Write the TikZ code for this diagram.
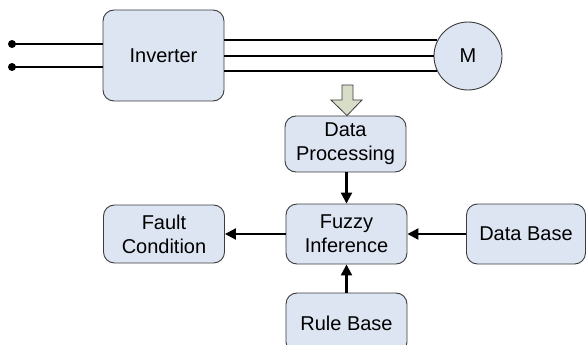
\documentclass[tikz,border=0pt]{standalone}
\usepackage{fontspec}
\setmainfont{Liberation Sans}
\usetikzlibrary{arrows.meta,calc}
\definecolor{boxfill}{RGB}{221,229,242}
\definecolor{boxline}{RGB}{60,60,60}
\definecolor{arrowfill}{RGB}{216,221,200}
\tikzset{
  block/.style={draw=boxline, line width=0.9pt, fill=boxfill, rounded corners=11pt,
    align=center, font=\fontsize{20}{24}\selectfont, inner sep=0pt},
  motor/.style={draw=boxline, line width=0.9pt, fill=boxfill, circle,
    minimum size=68pt, inner sep=0pt, font=\fontsize{20}{24}\selectfont},
  wire/.style={line width=2.1pt, black},
  flow/.style={wire, -{Triangle[length=11pt,width=11pt]}},
  terminal/.style={fill=black}
}
\begin{document}
\begin{tikzpicture}[x=1pt,y=-1pt]
\useasboundingbox (0,0) rectangle (587,345);

% power stage
\node[block, minimum width=121pt, minimum height=91pt] (inv) at (163.5,55.5) {Inverter};
\node[motor] (mot) at (468,56) {M};

% supply terminals
\coordinate (t1) at (12,44);
\coordinate (t2) at (12,67);
\draw[wire] (t1) -- (t1 -| inv.west);
\draw[wire] (t2) -- (t2 -| inv.west);
\fill[terminal] (t1) circle (4pt);
\fill[terminal] (t2) circle (4pt);

% three-phase lines to the motor
\draw[wire] (inv.east |- mot.153.8) -- (mot.153.8);
\draw[wire] (inv.east |- mot.west) -- (mot.west);
\draw[wire] (inv.east |- mot.206.2) -- (mot.206.2);

% diagnosis chain
\node[block, minimum width=121pt, minimum height=56pt] (proc) at (345.5,144) {Data\\Processing};
\node[block, minimum width=121pt, minimum height=60pt] (fuzzy) at (346.5,234) {Fuzzy\\Inference};
\node[block, minimum width=121pt, minimum height=58pt] (fault) at (164,234) {Fault\\Condition};
\node[block, minimum width=119pt, minimum height=60pt] (dbase) at (526,234) {Data Base};
\node[block, minimum width=121pt, minimum height=60pt] (rbase) at (346.5,323) {Rule Base};

% measurement input arrow
\filldraw[draw=boxline, line width=0.8pt, fill=arrowfill]
  (342,85) -- (353,85) -- (353,100) -- (362,100) -- (proc.north -| 347,0) -- (331,100) -- (342,100) -- cycle;

% signal flow
\draw[flow] (proc.south -| fuzzy.north) -- (fuzzy.north);
\draw[flow] (fuzzy.west) -- (fault.east);
\draw[flow] (dbase.west) -- (fuzzy.east);
\draw[flow] (rbase.north) -- (fuzzy.south);
\end{tikzpicture}
\end{document}
